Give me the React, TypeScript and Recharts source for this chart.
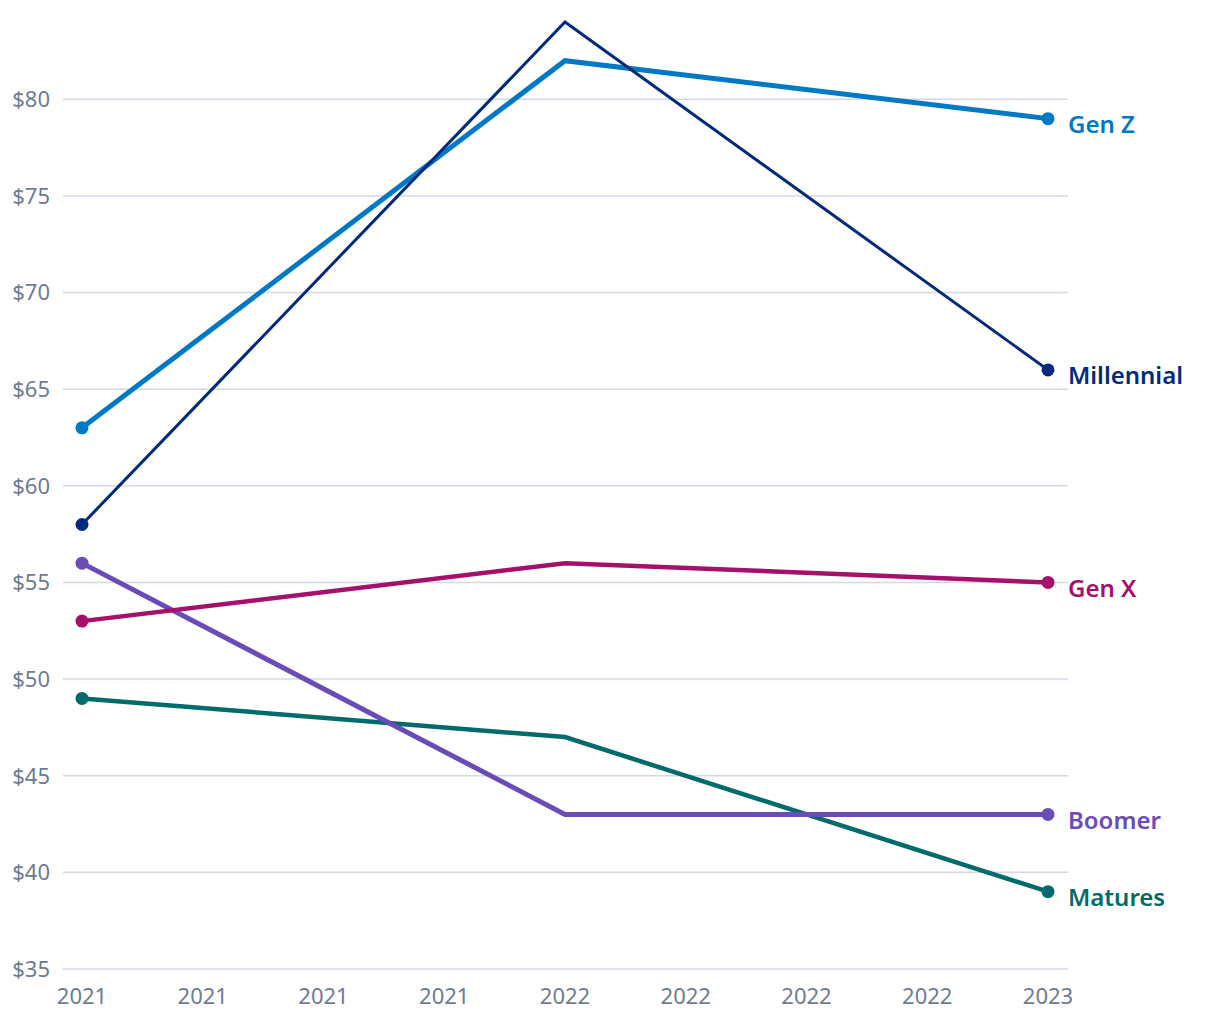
import React from 'react';
import { LineChart, Line, XAxis, YAxis, CartesianGrid } from 'recharts';

const years = [2021, 2022, 2023];
const genZ = [63, 82, 79];
const millennial = [58, 84, 66];
const genX = [53, 56, 55];
const boomer = [56, 43, 43];
const matures = [49, 47, 39];

const xTicks = [2021, 2021.25, 2021.5, 2021.75, 2022, 2022.25, 2022.5, 2022.75, 2023];
const xTickLabels = ['2021', '2021', '2021', '2021', '2022', '2022', '2022', '2022', '2023'];
const yTicks = [35, 40, 45, 50, 55, 60, 65, 70, 75, 80];

const data = years.map((year, i) => ({
    year,
    genZ: genZ[i],
    millennial: millennial[i],
    genX: genX[i],
    boomer: boomer[i],
    matures: matures[i],
}));

type SeriesProps = {
    key: string;
    name: string;
    color: string;
    width: number;
}

const series: SeriesProps[] = [
    { key: 'matures', name: 'Matures', color: '#006a6c', width: 4.5 },
    { key: 'boomer', name: 'Boomer', color: '#6a4cb6', width: 5 },
    { key: 'genX', name: 'Gen X', color: '#a5106b', width: 4.5 },
    { key: 'genZ', name: 'Gen Z', color: '#0079c5', width: 5 },
    { key: 'millennial', name: 'Millennial', color: '#022a7c', width: 3 },
];

const FONT = '"Noto Sans", sans-serif';
const last = years.length - 1;

function endDot(color: string) {
    return (props: any) => {
        const { cx, cy, index } = props;
        if (index !== 0 && index !== last) return <g key={`d-${index}`} />;
        return <circle key={`d-${index}`} cx={cx} cy={cy} r={6.5} fill={color} />;
    };
}

function endLabel(name: string, color: string) {
    return (props: any) => {
        const { x, y, index } = props;
        if (index !== last) return <g key={`l-${index}`} />;
        return (
            <text key={`l-${index}`} x={x + 20} y={y + 8} dominantBaseline="middle" fill={color}
                fontSize={24} fontWeight={600} fontFamily={FONT}>
                {name}
            </text>
        );
    };
}

export default function App() {
    return (
        <div style={{ position: 'absolute', left: 0, top: 0 }}>
            <LineChart width={1220} height={1020} data={data}
                margin={{ top: 22, right: 152, left: 0, bottom: 0 }}>
                <CartesianGrid vertical={false} stroke="#d5d8e3" strokeWidth={1.5}
                    horizontalCoordinatesGenerator={({ offset }: any) =>
                        yTicks.map(t => offset.top + offset.height * (84 - t) / (84 - 35))} />
                <XAxis dataKey="year" type="number" domain={[2021, 2023]} ticks={xTicks}
                    tickFormatter={(v: number, i: number) => xTickLabels[i] ?? String(Math.floor(v))}
                    padding={{ left: 19, right: 20 }} axisLine={false} tickLine={false}
                    tickMargin={13} height={51} interval={0}
                    tick={{ fill: '#6d7b93', fontSize: 22, fontFamily: FONT }} />
                <YAxis domain={[35, 84]} ticks={yTicks} width={63} axisLine={false} tickLine={false}
                    tickMargin={7} tickFormatter={(v: number) => `$${v}`}
                    tick={{ fill: '#6d7b93', fontSize: 22, fontFamily: FONT }} />
                {series.map(s => (
                    <Line key={s.key} dataKey={s.key} name={s.name} type="linear" stroke={s.color}
                        strokeWidth={s.width} dot={endDot(s.color)} activeDot={false}
                        label={endLabel(s.name, s.color)} isAnimationActive={false} />
                ))}
            </LineChart>
        </div>
    );
}
